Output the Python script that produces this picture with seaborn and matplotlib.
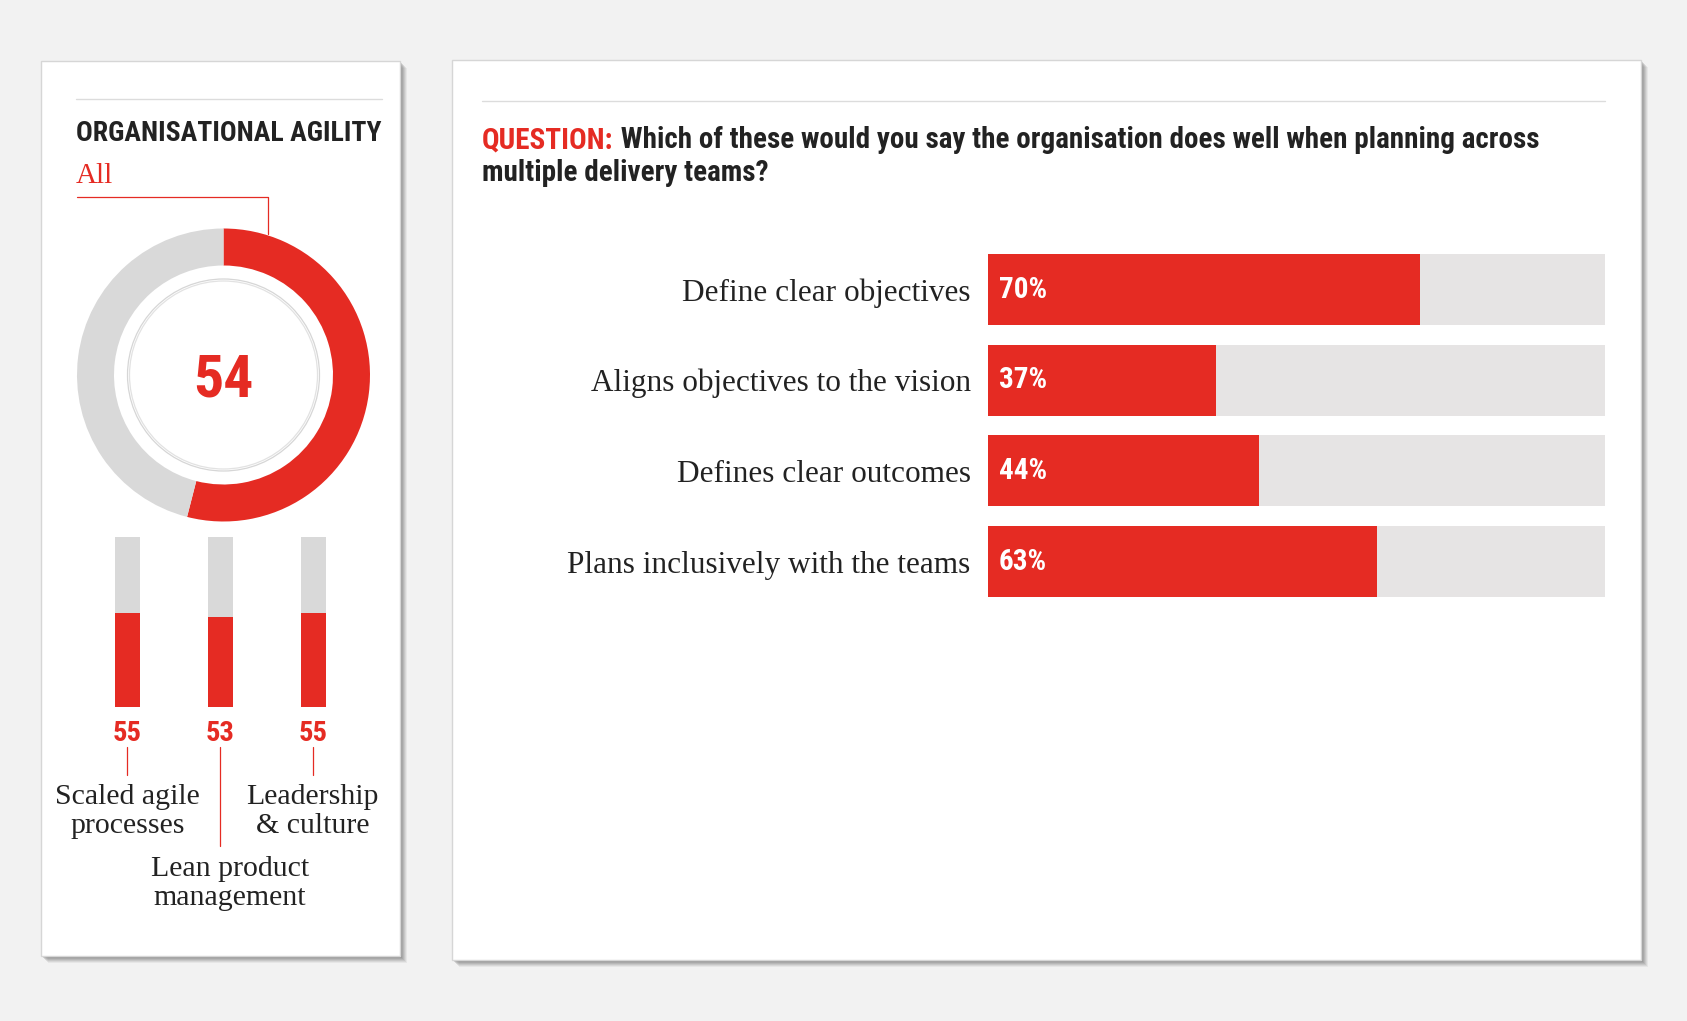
import matplotlib
matplotlib.use("Agg")
import matplotlib.pyplot as plt
from matplotlib import font_manager as fm
from matplotlib.patches import Rectangle, Circle
import seaborn as sns
import pandas as pd

# ---------------- data ----------------
overall_label = "All"
overall_score = 54
sub_categories = ["Scaled agile\nprocesses", "Lean product\nmanagement", "Leadership\n& culture"]
sub_scores = [55, 53, 55]
panel_title = "ORGANISATIONAL AGILITY"
question_lead = "QUESTION:"
question_line1 = " Which of these would you say the organisation does well when planning across"
question_line2 = "multiple delivery teams?"
answers = ["Define clear objectives", "Aligns objectives to the vision",
           "Defines clear outcomes", "Plans inclusively with the teams"]
answer_pct = [70, 37, 44, 63]

# ---------------- style ----------------
RED = "#e52b23"
GREY_RING = "#d9d9d9"
GREY_BAR = "#e6e4e4"
INK = "#222222"
BG = "#f2f2f2"

sns.set_theme(style="white")
names = {f.name for f in fm.fontManager.ttflist}
COND = next((n for n in ["Liberation Sans Narrow", "DejaVu Sans Condensed", "Roboto Condensed"]
             if n in names), "Roboto")
CS = 1.0 if COND != "Roboto" else 0.85
SERIF = "Liberation Serif" if "Liberation Serif" in names else "DejaVu Serif"
plt.rcParams["font.family"] = [SERIF, "DejaVu Sans"]

W, H = 1687, 1021
fig = plt.figure(figsize=(W / 100, H / 100), dpi=100, facecolor=BG)


def fig_rect(x0, y0, x1, y1):
    return [x0 / W, 1 - y1 / H, (x1 - x0) / W, (y1 - y0) / H]


# background / decoration axes in pixel coordinates
bg = fig.add_axes([0, 0, 1, 1], zorder=0)
bg.set_xlim(0, W)
bg.set_ylim(H, 0)
bg.axis("off")
bg.patch.set_alpha(0)


def panel(x0, y0, x1, y1):
    for k, a in [(7, 0.10), (6, 0.14), (5, 0.18), (4, 0.22), (3, 0.26), (2, 0.30)]:
        bg.add_patch(Rectangle((x0 + k, y0 + k), x1 - x0, y1 - y0, facecolor="#808080",
                               edgecolor="none", alpha=a, zorder=1))
    bg.add_patch(Rectangle((x0, y0), x1 - x0, y1 - y0, facecolor="white",
                           edgecolor="#d6d6d6", lw=1.0, zorder=2))


panel(41, 61, 400, 956)
panel(452, 60, 1641, 960)

# rules
bg.plot([76, 382], [99, 99], color="#dcdcdc", lw=1.0, zorder=3)
bg.plot([482, 1605], [101, 101], color="#dcdcdc", lw=1.0, zorder=3)

# left panel titles
bg.text(76, 141, panel_title, family=COND, weight="bold", fontsize=20 * CS,
        color=INK, va="baseline", ha="left", zorder=4)
bg.text(76, 183, overall_label, fontsize=21, color=RED, va="baseline", ha="left", zorder=4)
bg.plot([77, 268, 268], [197, 197, 234], color=RED, lw=0.9, zorder=4)

# question
QS = 21 * CS
qt = bg.text(482, 148, question_lead, family=COND, weight="bold", fontsize=QS,
             color=RED, va="baseline", ha="left", zorder=4)
bg.annotate(question_line1, xy=(1, 0), xycoords=qt, family=COND, weight="bold",
            fontsize=QS, color=INK, va="bottom", ha="left", zorder=4)
bg.text(482, 181, question_line2, family=COND, weight="bold", fontsize=QS,
        color=INK, va="baseline", ha="left", zorder=4)

# ---------------- donut ----------------
cx, cy, R = 223.5, 375, 146.5
axd = fig.add_axes(fig_rect(cx - R, cy - R, cx + R, cy + R), zorder=2)
axd.pie([overall_score, 100 - overall_score], colors=[RED, GREY_RING], startangle=90,
        counterclock=False, radius=1.0, wedgeprops=dict(width=37 / R, edgecolor="none", lw=0))
axd.add_patch(Circle((0, 0), 96 / R, fill=False, edgecolor="#d6d6d6", lw=0.9))
axd.add_patch(Circle((0, 0), 94 / R, fill=False, edgecolor="#e2e2e2", lw=0.9))
axd.text(0, -0.035, str(overall_score), family=COND, weight="bold", fontsize=43 * CS,
         color=RED, ha="center", va="center")
axd.set_xlim(-1, 1)
axd.set_ylim(-1, 1)
axd.axis("off")

# ---------------- mini bars ----------------
mb_x0, mb_x1, mb_top, mb_bot = 81, 360, 536.7, 706.7
axm = fig.add_axes(fig_rect(mb_x0, mb_top, mb_x1, mb_bot), zorder=2)
axm.patch.set_alpha(0)
dfm = pd.DataFrame({"cat": sub_categories, "score": sub_scores, "full": [100] * len(sub_scores)})
sns.barplot(data=dfm, x="cat", y="full", color=GREY_RING, width=0.269, ax=axm,
            saturation=1, linewidth=0)
sns.barplot(data=dfm, x="cat", y="score", color=RED, width=0.269, ax=axm,
            saturation=1, linewidth=0)
axm.set_xlim(-0.5, len(sub_scores) - 0.5)
axm.set_ylim(0, 100)
axm.axis("off")
for i, v in enumerate(sub_scores):
    axm.annotate(str(v), xy=(i, 0), xytext=(0, -19), textcoords="offset points",
                 family=COND, weight="bold", fontsize=20.5 * CS, color=RED,
                 ha="center", va="center")

step = (mb_x1 - mb_x0) / len(sub_scores)
centers = [mb_x0 + step * (i + 0.5) for i in range(len(sub_scores))]
label_rows = [0, 1, 0]
label_shift = [0, 9.5, -1]
for c, lab, row, dx in zip(centers, sub_categories, label_rows, label_shift):
    end = 775 if row == 0 else 846
    bg.plot([c - 0.5, c - 0.5], [747, end], color=RED, lw=0.9, zorder=4)
    last_base = 833 if row == 0 else 905
    bg.text(c + dx, last_base, lab, fontsize=21.5, color=INK, ha="center", va="baseline",
            linespacing=1.13, zorder=4)

# ---------------- horizontal bars ----------------
hb_x0, hb_x1 = 988, 1605
pitch, bar_h = 90.7, 71
hb_top = 254 - (pitch - bar_h) / 2
hb_bot = hb_top + pitch * len(answers)
axh = fig.add_axes(fig_rect(hb_x0, hb_top, hb_x1, hb_bot), zorder=2)
axh.patch.set_alpha(0)
dfh = pd.DataFrame({"answer": answers, "pct": answer_pct, "full": [100] * len(answers)})
sns.barplot(data=dfh, y="answer", x="full", orient="h", color=GREY_BAR, width=bar_h / pitch,
            ax=axh, saturation=1, linewidth=0)
sns.barplot(data=dfh, y="answer", x="pct", orient="h", color=RED, width=bar_h / pitch,
            ax=axh, saturation=1, linewidth=0)
axh.set_xlim(0, 100)
axh.set_ylim(len(answers) - 0.5, -0.5)
axh.set_xlabel("")
axh.set_ylabel("")
axh.set_xticks([])
for s in axh.spines.values():
    s.set_visible(False)
axh.tick_params(axis="y", length=0, pad=12.5, labelsize=22.5, labelcolor=INK)
for t in axh.get_yticklabels():
    t.set_fontfamily(SERIF)
for i, v in enumerate(answer_pct):
    axh.annotate(f"{v}%", xy=(0, i), xytext=(8, 0), textcoords="offset points",
                 family=COND, weight="bold", fontsize=21 * CS, color="white",
                 ha="left", va="center")

fig.savefig("out.png", dpi=100, facecolor=BG)
